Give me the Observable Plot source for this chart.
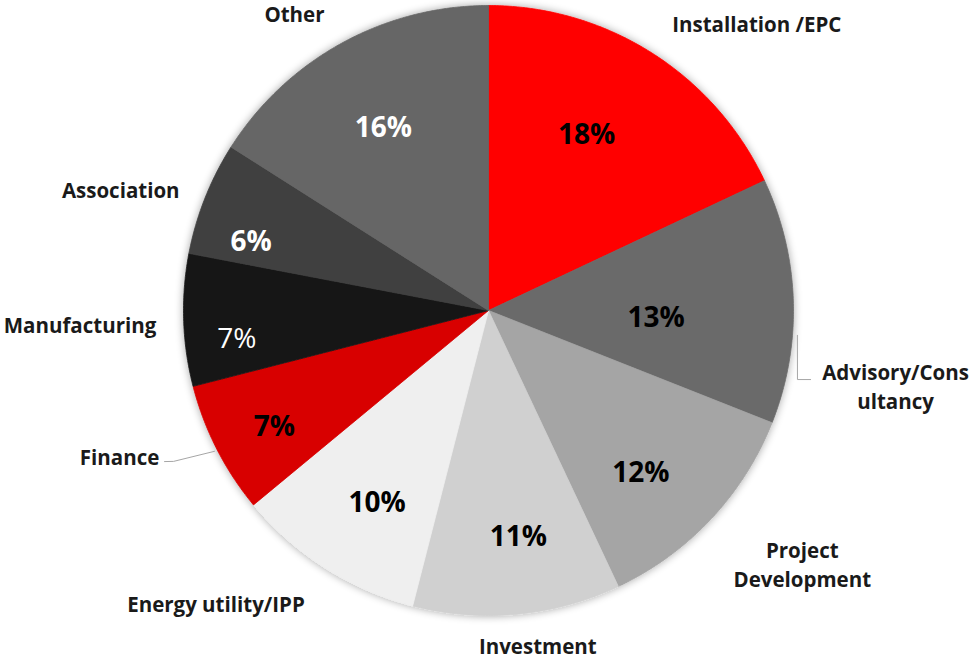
<!DOCTYPE html>
<html>
<head>
<meta charset="utf-8">
<script src="https://cdn.jsdelivr.net/npm/d3@7"></script>
<script src="https://cdn.jsdelivr.net/npm/@observablehq/plot@0.6"></script>
<style>
  html, body { margin: 0; padding: 0; background: #fff; }
  #chart svg { display: block; }
</style>
</head>
<body>
<div id="chart"></div>
<script>
// ---- data ----
const categories = ["Installation /EPC", "Advisory/Consultancy", "Project Development", "Investment", "Energy utility/IPP", "Finance", "Manufacturing", "Association", "Other"];
const shares = [18, 13, 12, 11, 10, 7, 7, 6, 16];
const displayLabels = ["Installation /EPC", "Advisory/Cons\nultancy", "Project\nDevelopment", "Investment", "Energy utility/IPP", "Finance", "Manufacturing", "Association", "Other"];
const colors = ["#FF0000", "#6B6B6B", "#A5A5A5", "#D0D0D0", "#EFEFEF", "#D80000", "#191919", "#404040", "#666666"];
const pctTextColors = ["#000", "#000", "#000", "#000", "#000", "#000", "#fff", "#fff", "#fff"];

// ---- layout (polar: degrees clockwise from 12 o'clock, radius as fraction of pie radius) ----
const pctAngle = [29.2, 92.7, 136.8, 172.5, 210, 241.4, 263.6, 286, 330];
const pctRadius = [0.66, 0.55, 0.73, 0.75, 0.73, 0.80, 0.83, 0.81, 0.69];
const outAngle = [43.0, 100.4, 128.8, 171.6, 223, 248.5, 268.2, 288.3, 326.9];
const outRadius = [1.29, 1.357, 1.32, 1.106, 1.31, 1.30, 1.34, 1.27, 1.165];
const leaders = [
  {name: "Advisory", pts: [[94.6, 1.016], [102.6, 1.038], [102.1, 1.08]]},
  {name: "Finance", pts: [[242.8, 1.01], [244.4, 1.145], [245.0, 1.172]]}
];

const W = 971, H = 660, cx = 488, cy = 310, R = 305;
const rad = d => d * Math.PI / 180;
const polar = (deg, r) => ({x: r * Math.sin(rad(deg)), y: r * Math.cos(rad(deg))});

const arcs = d3.pie().sort(null)(shares);
const slicePts = arcs.flatMap((a, i) => {
  const name = categories[i], color = colors[i];
  const n = Math.max(2, Math.ceil((a.endAngle - a.startAngle) / (Math.PI / 360)));
  const pts = [{name, color, x: 0, y: 0}];
  for (let k = 0; k <= n; k++) {
    const t = a.startAngle + (a.endAngle - a.startAngle) * k / n;
    pts.push({name, color, x: Math.sin(t), y: Math.cos(t)});
  }
  pts.push({name, color, x: 0, y: 0});
  return pts;
});

const pctData = shares.map((v, i) => ({text: v + "%", fill: pctTextColors[i], bold: i !== 6, ...polar(pctAngle[i], pctRadius[i])}));
const outData = displayLabels.map((t, i) => ({text: t, ...polar(outAngle[i], outRadius[i])}));
const leaderPts = leaders.flatMap(l => l.pts.map(([a, r]) => ({name: l.name, ...polar(a, r)})));

const font = "'Open Sans', sans-serif";

const plot = Plot.plot({
  width: W,
  height: H,
  margin: 0,
  x: {domain: [-cx / R, (W - cx) / R], range: [0, W], axis: null},
  y: {domain: [-(H - cy) / R, cy / R], range: [H, 0], axis: null},
  color: {type: "identity"},
  marks: [
    Plot.line(slicePts, {x: "x", y: "y", z: "name", fill: "color", stroke: "color", strokeWidth: 0.8, curve: "linear"}),
    Plot.line(leaderPts, {x: "x", y: "y", z: "name", stroke: "#A6A6A6", strokeWidth: 1}),
    Plot.text(pctData.filter(d => d.bold), {x: "x", y: "y", text: "text", fill: "fill", fontSize: 28, fontWeight: 700, fontFamily: font, textAnchor: "middle", lineAnchor: "middle"}),
    Plot.text(pctData.filter(d => !d.bold), {x: "x", y: "y", text: "text", fill: "fill", fontSize: 28, fontWeight: 400, fontFamily: font, textAnchor: "middle", lineAnchor: "middle"}),
    Plot.text(outData, {x: "x", y: "y", text: "text", fill: "#1a1a1a", fontSize: 20.5, fontWeight: 700, fontFamily: font, textAnchor: "middle", lineAnchor: "middle", lineHeight: 1.42})
  ]
});

// soft shadow around the pie
const ns = "http://www.w3.org/2000/svg";
const defs = document.createElementNS(ns, "defs");
defs.innerHTML = `<filter id="pieShadow" x="-10%" y="-10%" width="120%" height="120%">
  <feGaussianBlur in="SourceAlpha" stdDeviation="4"/>
  <feComponentTransfer><feFuncA type="linear" slope="0.35"/></feComponentTransfer>
  <feMerge><feMergeNode/><feMergeNode in="SourceGraphic"/></feMerge>
</filter>`;
plot.prepend(defs);
const lineGroups = plot.querySelectorAll('g[aria-label="line"]');
if (lineGroups.length) lineGroups[0].setAttribute("filter", "url(#pieShadow)");

document.getElementById("chart").append(plot);
</script>
</body>
</html>
